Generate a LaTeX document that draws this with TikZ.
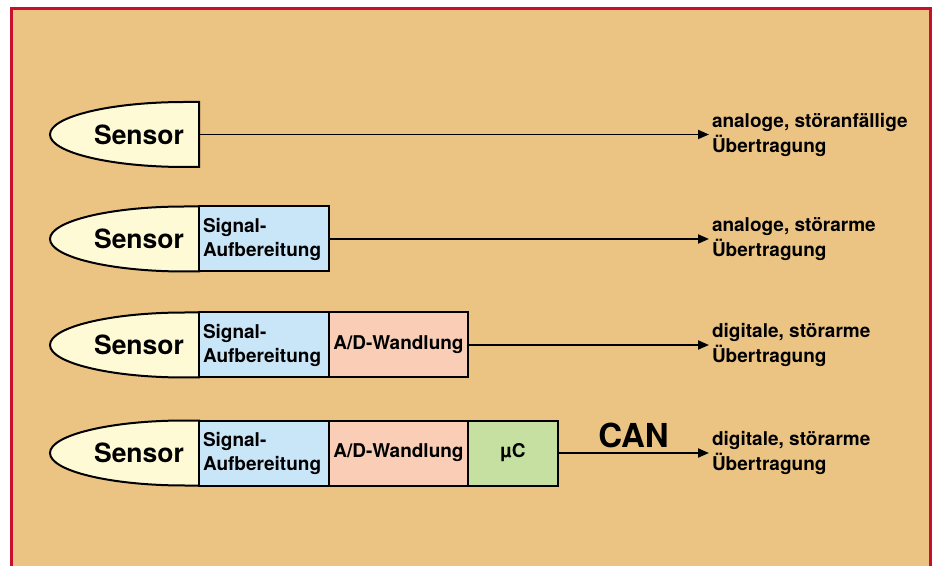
\documentclass[tikz,border=0pt]{standalone}
\usepackage{fontspec}
\setmainfont{TeX Gyre Heros}
\usetikzlibrary{positioning, arrows.meta, backgrounds}

\definecolor{paper}{RGB}{235,196,131}
\definecolor{framered}{RGB}{200,16,46}
\definecolor{sensorfill}{RGB}{254,250,214}
\definecolor{signalfill}{RGB}{201,229,248}
\definecolor{adcfill}{RGB}{250,206,182}
\definecolor{mcufill}{RGB}{197,224,160}

\begin{document}
\begin{tikzpicture}[
    x=1pt, y=1pt,
    line width=2pt,
    arrow/.style={
        -{Triangle[length=11pt, width=9pt]},
        line width=1.8pt
    },
    sensor/.style={
        rectangle,
        minimum width=120pt,
        minimum height=65pt,
        inner sep=0pt,
        outer sep=0pt,
        font=\fontsize{26.5}{30}\selectfont\bfseries
    },
    sensorbody/.style={
        draw,
        fill=sensorfill,
        line width=2pt
    },
    stage/.style={
        rectangle,
        draw,
        line width=2pt,
        minimum height=65pt,
        inner sep=0pt,
        outer sep=0pt,
        font=\fontsize{19}{24}\selectfont\bfseries
    },
    signal/.style={
        stage,
        fill=signalfill,
        minimum width=130pt,
        text width=122pt,
        align=left
    },
    adc/.style={
        stage,
        fill=adcfill,
        minimum width=139pt,
        align=center
    },
    mcu/.style={
        stage,
        fill=mcufill,
        minimum width=90pt,
        align=center
    },
    result/.style={
        anchor=west,
        inner sep=2pt,
        align=left,
        font=\fontsize{19}{25}\selectfont\bfseries
    },
    bus/.style={
        inner sep=0pt,
        font=\fontsize{33}{36}\selectfont\bfseries
    }
]

    \useasboundingbox (0,0) rectangle (936,565);

    % Row 1: sensor only
    \node[sensor] (sens1) at (139,430.5) {Sensor};
    \node[result] (res1) at (709,430.5) {analoge, störanfällige\\Übertragung};
    \draw[arrow] (sens1.east) -- (res1.west);

    % Row 2: with signal conditioning
    \node[sensor] (sens2) at (139,326) {Sensor};
    \node[signal, right=0pt of sens2] (sig2) {Signal-\\Aufbereitung};
    \node[result] (res2) at (709,326) {analoge, störarme\\Übertragung};
    \draw[arrow] (sig2.east) -- (res2.west);

    % Row 3: with A/D conversion
    \node[sensor] (sens3) at (139,220) {Sensor};
    \node[signal, right=0pt of sens3] (sig3) {Signal-\\Aufbereitung};
    \node[adc, right=0pt of sig3] (adc3) {A/D-Wandlung};
    \node[result] (res3) at (709,220) {digitale, störarme\\Übertragung};
    \draw[arrow] (adc3.east) -- (res3.west);

    % Row 4: with microcontroller on the bus
    \node[sensor] (sens4) at (139,112) {Sensor};
    \node[signal, right=0pt of sens4] (sig4) {Signal-\\Aufbereitung};
    \node[adc, right=0pt of sig4] (adc4) {A/D-Wandlung};
    \node[mcu, right=0pt of adc4] (mcu4) {µC};
    \node[result] (res4) at (709,112) {digitale, störarme\\Übertragung};
    \draw[arrow] (mcu4.east) -- node[bus, above=4pt] (can) {CAN} (res4.west);

    % Frame and sensor bodies
    \begin{scope}[on background layer]
        \draw[framered, fill=paper, line width=3pt] (11.5,-20) rectangle (930,556.5);
        \foreach \s in {sens1, sens2, sens3, sens4}
            \draw[sensorbody] (\s.north east) -- ++(-14,0)
                arc[start angle=90, end angle=270, x radius=135, y radius=32.5]
                -- (\s.south east) -- cycle;
    \end{scope}

\end{tikzpicture}
\end{document}
